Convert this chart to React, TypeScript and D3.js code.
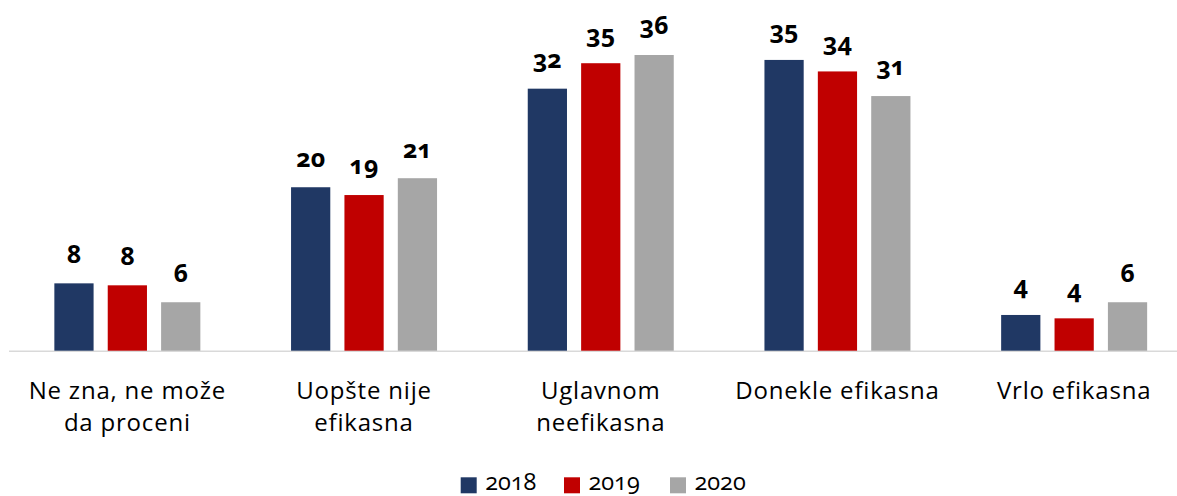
import React from "react";
import * as d3 from "d3";

const categories = [
  ["Ne zna, ne može", "da proceni"],
  ["Uopšte nije", "efikasna"],
  ["Uglavnom", "neefikasna"],
  ["Donekle efikasna"],
  ["Vrlo efikasna"],
];
const seriesNames = ["2018", "2019", "2020"];
const values2018 = [8.2, 19.9, 31.9, 35.4, 4.35];
const values2019 = [7.96, 18.95, 35.0, 34.0, 3.94];
const values2020 = [5.9, 21.0, 36.0, 31.0, 5.9];
const colors = ["#203864", "#c00000", "#a6a6a6"];

const W = 1177;
const H = 496;
const FONT = "'Open Sans', sans-serif";
const onum = { fontFeatureSettings: "'onum' 1", fontVariantNumeric: "oldstyle-nums" as const };

export default function App() {
  const series = [values2018, values2019, values2020];
  const baseline = 350.7;
  const y = d3.scaleLinear().domain([0, 36]).range([baseline, 55]);
  const x0 = d3
    .scaleBand<number>()
    .domain(d3.range(categories.length))
    .range([9, 1192.5])
    .padding(0);
  const groupW = 146;
  const x1 = d3
    .scaleBand<number>()
    .domain(d3.range(seriesNames.length))
    .range([0, groupW])
    .paddingInner(0.265)
    .paddingOuter(0);
  const legendX = [460.7, 564, 670];

  return (
    <svg
      width={W}
      height={H}
      style={{ position: "absolute", left: 0, top: 0, background: "#fff" }}
      fontFamily={FONT}
    >
      <line x1={9} x2={1177} y1={baseline + 0.5} y2={baseline + 0.5} stroke="#d9d9d9" strokeWidth={1.5} />
      {categories.map((cat, i) => {
        const cx = x0(i)! + x0.bandwidth() / 2;
        const gx = cx - groupW / 2;
        return (
          <g key={i}>
            {series.map((vals, s) => {
              const v = vals[i];
              const bx = gx + x1(s)!;
              return (
                <g key={s}>
                  <rect x={bx} y={y(v)} width={x1.bandwidth()} height={baseline - y(v)} fill={colors[s]} />
                  <text
                    x={bx + x1.bandwidth() / 2}
                    y={y(v) - 20.6}
                    textAnchor="middle"
                    fontWeight="bold"
                    fontSize={25}
                    fill="#000"
                    style={onum}
                  >
                    {Math.round(v)}
                  </text>
                </g>
              );
            })}
            {cat.map((line, li) => (
              <text
                key={li}
                x={cx}
                y={398.5 + li * 32.8}
                textAnchor="middle"
                fontSize={24}
                letterSpacing={0.8}
                fill="#000"
              >
                {line}
              </text>
            ))}
          </g>
        );
      })}
      {seriesNames.map((name, s) => (
        <g key={name}>
          <rect x={legendX[s]} y={477.3} width={16} height={16} fill={colors[s]} />
          <text x={legendX[s] + 24.5} y={490} fontSize={23.5} fill="#000" style={onum}>
            {name}
          </text>
        </g>
      ))}
    </svg>
  );
}
